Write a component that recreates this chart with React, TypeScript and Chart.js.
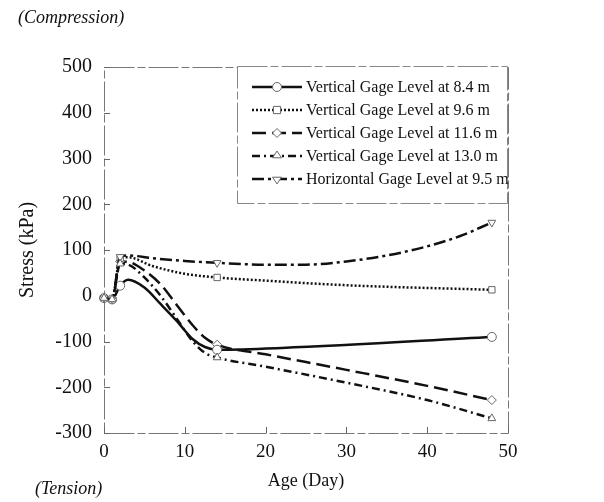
import React, { useEffect, useRef } from "react";
import { Chart, registerables } from "chart.js";

Chart.register(...registerables);

// Measured stress (kPa) against age (days) for each gage
const gage84Days = [0, 1, 2, 3, 5, 7, 9, 11, 12.5, 14, 22, 48];
const gage84Stress = [-5, -8, 22, 35, 18, -18, -55, -95, -112, -118, -114, -90];

const gage96Days = [0, 1, 2, 3, 6, 10, 14, 20, 30, 48];
const gage96Stress = [-5, -8, 82, 84, 65, 48, 40, 33, 23, 13];

const gage116Days = [0, 1, 2, 3, 5, 7, 9, 11, 12.5, 14, 20, 30, 40, 48];
const gage116Stress = [-5, -8, 75, 74, 55, 25, -20, -65, -92, -107, -128, -162, -197, -228];

const gage130Days = [0, 1, 2, 3, 5, 7, 9, 11, 12.5, 14, 20, 30, 40, 48];
const gage130Stress = [-5, -8, 70, 68, 40, 0, -50, -100, -125, -135, -155, -190, -228, -268];

const horiz95Days = [0, 1, 2, 3, 6, 10, 14, 20, 25, 30, 35, 40, 44, 48];
const horiz95Stress = [-5, -8, 85, 88, 82, 76, 72, 68, 68, 75, 88, 108, 130, 160];

// Days on which readings were taken (markers drawn)
const markerDays = [0, 1, 2, 14, 48];

const xTicks = [0, 10, 20, 30, 40, 50];
const yTicks = [-300, -200, -100, 0, 100, 200, 300, 400, 500];

const seriesLabels = [
  "Vertical Gage Level at 8.4 m",
  "Vertical Gage Level at 9.6 m",
  "Vertical Gage Level at 11.6 m",
  "Vertical Gage Level at 13.0 m",
  "Horizontal Gage Level at 9.5 m",
];

const SERIF = '"Liberation Serif", "Times New Roman", serif';

type Style = {
  dash: number[];
  width: number;
  point: string;
  rotation: number;
  order: number;
};

const styles: Style[] = [
  { dash: [], width: 2.5, point: "circle", rotation: 0, order: 2 },
  { dash: [2, 2], width: 2.5, point: "rect", rotation: 0, order: 2 },
  { dash: [14, 6], width: 2.5, point: "rectRot", rotation: 0, order: 2 },
  { dash: [8, 4, 2, 4], width: 2.5, point: "triangle", rotation: 0, order: 0 },
  { dash: [12, 4, 3, 4], width: 2.5, point: "triangle", rotation: 180, order: 1 },
];

const toPoints = (xs: number[], ys: number[]) => xs.map((x, i) => ({ x, y: ys[i] }));

const seriesData = [
  toPoints(gage84Days, gage84Stress),
  toPoints(gage96Days, gage96Stress),
  toPoints(gage116Days, gage116Stress),
  toPoints(gage130Days, gage130Stress),
  toPoints(horiz95Days, horiz95Stress),
];

function drawMarker(ctx: CanvasRenderingContext2D, kind: string, rot: number, x: number, y: number, r: number) {
  ctx.save();
  ctx.translate(x, y);
  ctx.rotate((rot * Math.PI) / 180);
  ctx.beginPath();
  if (kind === "circle") {
    ctx.arc(0, 0, r, 0, Math.PI * 2);
  } else if (kind === "rect") {
    ctx.rect(-r * 0.8, -r * 0.8, r * 1.6, r * 1.6);
  } else if (kind === "rectRot") {
    ctx.moveTo(0, -r);
    ctx.lineTo(r, 0);
    ctx.lineTo(0, r);
    ctx.lineTo(-r, 0);
    ctx.closePath();
  } else {
    ctx.moveTo(0, -r * 1.1);
    ctx.lineTo(r, r * 0.4);
    ctx.lineTo(-r, r * 0.4);
    ctx.closePath();
  }
  ctx.fill();
  ctx.stroke();
  ctx.restore();
}

const decorPlugin = {
  id: "decor",
  beforeDatasetsDraw(chart: any) {
    const { ctx, chartArea } = chart;
    const { left, right, top, bottom } = chartArea;
    const xs = chart.scales.x;
    const ys = chart.scales.y;
    ctx.save();

    // frame
    ctx.strokeStyle = "#777";
    ctx.lineWidth = 1;
    ctx.setLineDash([30, 3, 8, 3]);
    ctx.strokeRect(left + 0.5, top + 0.5, right - left, bottom - top);
    ctx.setLineDash([]);

    // inward tick marks
    ctx.strokeStyle = "#666";
    ctx.beginPath();
    xTicks.forEach((t) => {
      const px = Math.round(xs.getPixelForValue(t)) + 0.5;
      ctx.moveTo(px, bottom);
      ctx.lineTo(px, bottom - 6);
    });
    yTicks.forEach((t) => {
      const py = Math.round(ys.getPixelForValue(t)) + 0.5;
      ctx.moveTo(left, py);
      ctx.lineTo(left + 6, py);
    });
    ctx.stroke();
    ctx.restore();
  },
  afterDraw(chart: any) {
    const { ctx, chartArea } = chart;
    const { left, right, top, bottom } = chartArea;
    ctx.save();

    // legend box
    const lx0 = 237;
    const ly0 = 66;
    const lx1 = right;
    const ly1 = 203;
    ctx.fillStyle = "#fff";
    ctx.fillRect(lx0, ly0, lx1 - lx0, ly1 - ly0);
    ctx.strokeStyle = "#888";
    ctx.lineWidth = 1;
    ctx.setLineDash([30, 3, 8, 3]);
    ctx.strokeRect(lx0 + 0.5, ly0 + 0.5, lx1 - lx0 - 1, ly1 - ly0);
    ctx.setLineDash([]);

    ctx.font = `16px ${SERIF}`;
    ctx.textBaseline = "middle";
    ctx.textAlign = "left";
    seriesLabels.forEach((label, i) => {
      const y = 87 + i * 23;
      const st = styles[i];
      ctx.strokeStyle = "#111";
      ctx.lineWidth = st.width;
      ctx.setLineDash(st.dash);
      ctx.beginPath();
      ctx.moveTo(252, y);
      ctx.lineTo(302, y);
      ctx.stroke();
      ctx.setLineDash([]);
      ctx.fillStyle = "#fff";
      ctx.strokeStyle = "#666";
      ctx.lineWidth = 1;
      drawMarker(ctx, st.point, st.rotation, 277, y, 4.5);
      ctx.fillStyle = "#111";
      ctx.fillText(label, 306, y + 1);
    });

    // texts
    ctx.fillStyle = "#111";
    ctx.font = `italic 18px ${SERIF}`;
    ctx.textAlign = "left";
    ctx.fillText("(Compression)", 18, 18);
    ctx.fillText("(Tension)", 35, 489);

    ctx.font = `18px ${SERIF}`;
    ctx.textAlign = "center";
    ctx.fillText("Age (Day)", (left + right) / 2, 481);

    ctx.font = `20px ${SERIF}`;
    ctx.translate(28, (top + bottom) / 2);
    ctx.rotate(-Math.PI / 2);
    ctx.fillText("Stress (kPa)", 0, 0);
    ctx.restore();
  },
};

export default function App() {
  const canvasRef = useRef<HTMLCanvasElement | null>(null);

  useEffect(() => {
    document.body.style.margin = "0";
    const canvas = canvasRef.current;
    if (!canvas) return;

    const datasets = seriesData.map((data, i) => ({
      label: seriesLabels[i],
      data,
      order: styles[i].order,
      borderColor: "#111",
      borderWidth: styles[i].width,
      borderDash: styles[i].dash,
      cubicInterpolationMode: "monotone" as const,
      pointStyle: styles[i].point,
      rotation: styles[i].rotation,
      pointRadius: (c: any) => (markerDays.includes(c.raw?.x) ? 4.5 : 0),
      pointBorderColor: "#666",
      pointBorderWidth: 1,
      pointBackgroundColor: "#fff",
      fill: false,
      clip: false as any,
    }));

    const chart = new Chart(canvas, {
      type: "line",
      data: { datasets },
      options: {
        animation: false,
        responsive: false,
        layout: { padding: { left: 44, right: 96, top: 67, bottom: 29 } },
        plugins: { legend: { display: false }, tooltip: { enabled: false } },
        scales: {
          x: {
            type: "linear",
            min: 0,
            max: 50,
            afterFit: (s: any) => {
              s.height = 40;
            },
            afterBuildTicks: (s: any) => {
              s.ticks = xTicks.map((v) => ({ value: v }));
            },
            grid: { display: false, drawTicks: false },
            border: { display: false },
            ticks: { color: "#111", padding: 8, font: { family: SERIF, size: 19 } },
          },
          y: {
            type: "linear",
            min: -300,
            max: 500,
            afterFit: (s: any) => {
              s.width = 60;
            },
            afterBuildTicks: (s: any) => {
              s.ticks = yTicks.map((v) => ({ value: v }));
            },
            grid: { display: false, drawTicks: false },
            border: { display: false },
            ticks: { color: "#111", padding: 12, font: { family: SERIF, size: 20 } },
          },
        },
      },
      plugins: [decorPlugin],
    });

    return () => chart.destroy();
  }, []);

  return (
    <div style={{ position: "fixed", left: 0, top: 0, width: 604, height: 502, background: "#fff" }}>
      <canvas ref={canvasRef} width={604} height={502} />
    </div>
  );
}
